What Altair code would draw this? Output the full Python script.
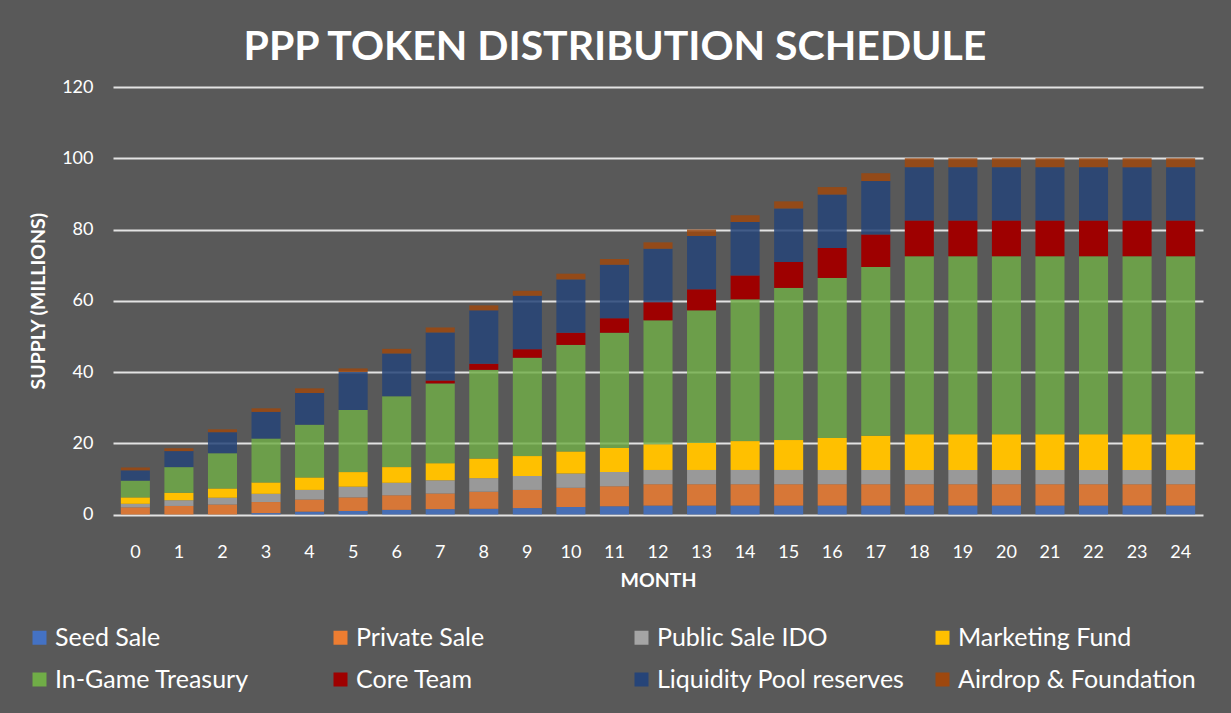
import altair as alt
import pandas as pd

months = list(range(25))
series = ["Seed Sale", "Private Sale", "Public Sale IDO", "Marketing Fund",
          "In-Game Treasury", "Core Team", "Liquidity Pool reserves", "Airdrop & Foundation"]
colors = ["#4472C4", "#ED7D31", "#A5A5A5", "#FFC000", "#70AD47", "#9E0000", "#264478", "#9E480E"]
opacities = [0.85, 0.85, 0.85, 1.0, 0.82, 1.0, 0.85, 0.85]

seed = [0.0, 0.0, 0.0, 0.4, 0.8, 1.0, 1.3, 1.5, 1.6, 1.8, 2.1, 2.3, 2.5,
        2.5, 2.5, 2.5, 2.5, 2.5, 2.5, 2.5, 2.5, 2.5, 2.5, 2.5, 2.5]
private = [2.0, 2.4, 2.8, 3.1, 3.4, 3.8, 4.1, 4.4, 4.8, 5.1, 5.4, 5.6, 6.0,
           6.0, 6.0, 6.0, 6.0, 6.0, 6.0, 6.0, 6.0, 6.0, 6.0, 6.0, 6.0]
public = [1.0, 1.6, 1.9, 2.3, 2.7, 3.0, 3.5, 3.7, 3.8, 3.9, 4.0, 4.0, 4.0,
          4.0, 4.0, 4.0, 4.0, 4.0, 4.0, 4.0, 4.0, 4.0, 4.0, 4.0, 4.0]
marketing = [1.8, 2.1, 2.6, 3.2, 3.5, 4.1, 4.4, 4.8, 5.5, 5.6, 6.2, 6.8, 7.2,
             7.6, 8.1, 8.4, 9.0, 9.6, 10.0, 10.0, 10.0, 10.0, 10.0, 10.0, 10.0]
ingame = [4.7, 7.2, 9.9, 12.3, 14.8, 17.4, 19.9, 22.4, 24.9, 27.6, 29.9, 32.3, 34.8,
          37.2, 39.8, 42.7, 44.9, 47.4, 50.0, 50.0, 50.0, 50.0, 50.0, 50.0, 50.0]
core = [0.0, 0.0, 0.0, 0.0, 0.0, 0.0, 0.0, 0.8, 1.7, 2.4, 3.4, 4.1, 5.1,
        5.9, 6.7, 7.3, 8.4, 9.1, 10.0, 10.0, 10.0, 10.0, 10.0, 10.0, 10.0]
lp = [2.9, 4.5, 5.9, 7.5, 8.9, 10.7, 12.0, 13.5, 15.0, 15.0, 15.0, 15.0, 15.0,
      15.0, 15.0, 15.0, 15.0, 15.0, 15.0, 15.0, 15.0, 15.0, 15.0, 15.0, 15.0]
airdrop = [0.8, 0.8, 0.8, 1.0, 1.3, 1.0, 1.3, 1.4, 1.4, 1.4, 1.6, 1.6, 1.8,
           1.8, 1.9, 2.0, 2.1, 2.2, 2.5, 2.5, 2.5, 2.5, 2.5, 2.5, 2.5]

y_ticks = [0, 20, 40, 60, 80, 100, 120]

values_by_series = [seed, private, public, marketing, ingame, core, lp, airdrop]
rows = []
for idx, (name, vals) in enumerate(zip(series, values_by_series)):
    for m, v in zip(months, vals):
        rows.append({"month": m, "series": name, "value": v, "idx": idx,
                     "op": opacities[idx]})
df = pd.DataFrame(rows)

FONT = "Lato"

chart = alt.Chart(df).mark_bar().encode(
    x=alt.X("month:O",
            scale=alt.Scale(paddingInner=0.333, paddingOuter=0.18),
            axis=alt.Axis(title="MONTH", labelAngle=0, ticks=False, tickSize=0, domain=False,
                          labelPadding=38, labelBaseline="middle", labelFontSize=18,
                          titleFontSize=19.5, titleFontWeight="bold", titleY=66,
                          titleBaseline="middle")),
    y=alt.Y("value:Q", stack="zero",
            scale=alt.Scale(domain=[0, 120], nice=False),
            axis=alt.Axis(title="SUPPLY (MILLIONS)", values=y_ticks, ticks=False, tickSize=0,
                          domain=False, labelPadding=20, labelFontSize=18,
                          titleFontSize=19.5, titleFontWeight="bold", titleX=-75,
                          titleBaseline="middle", gridColor="#e3e3e3", gridWidth=2)),
    color=alt.Color("series:N", sort=series,
                    scale=alt.Scale(domain=series, range=colors),
                    legend=alt.Legend(title=None, orient="none", legendX=-86, legendY=538,
                                      direction="horizontal",
                                      columns=4, gridAlign="all", columnPadding=25,
                                      rowPadding=16, symbolType="square", symbolSize=196,
                                      symbolStrokeWidth=0, symbolOpacity=1,
                                      labelFontSize=25, labelColor="white",
                                      labelFont=FONT, labelOffset=3, padding=0,
                                      labelLimit=400)),
    opacity=alt.Opacity("op:Q", scale=None, legend=None),
    order=alt.Order("idx:Q", sort="ascending"),
).properties(
    width=1090,
    height=427.5,
    autosize=alt.AutoSizeParams(type="none"),
    padding={"left": 113, "top": 87, "right": 28, "bottom": 198.5},
    title=alt.Title("PPP TOKEN DISTRIBUTION SCHEDULE", fontSize=41, font=FONT,
                    fontWeight="bold", color="white", anchor="middle", dx=-43, offset=9),
).configure(
    background="#595959",
    font=FONT,
).configure_view(
    stroke=None,
).configure_axis(
    labelColor="white",
    titleColor="white",
    labelFont=FONT,
    titleFont=FONT,
)

chart.save("out.html", embed_options={"renderer": "svg", "actions": False})
